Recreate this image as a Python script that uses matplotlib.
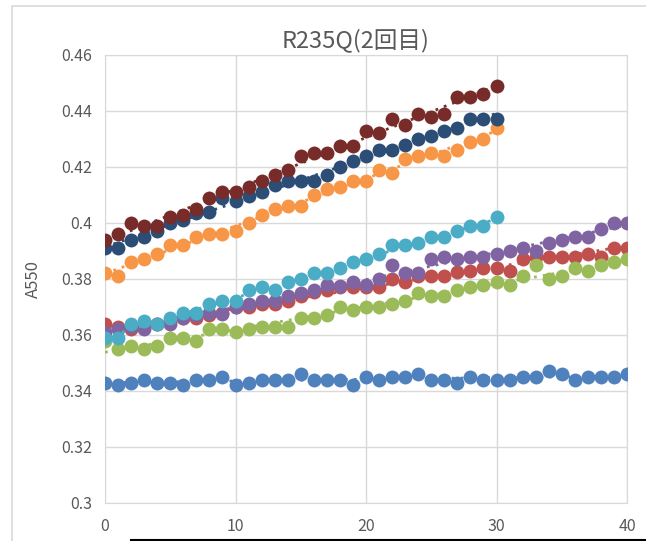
import numpy as np
import matplotlib
matplotlib.use("Agg")
import matplotlib.pyplot as plt
from matplotlib.patches import Rectangle
from matplotlib.lines import Line2D

plt.rcParams['font.family'] = ['Noto Sans CJK JP', 'DejaVu Sans']

title = "R235Q(2回目)"
ylabel = "A550"

x_long = list(range(41))
x_short = list(range(31))

blue = [0.343, 0.342, 0.343, 0.344, 0.343, 0.343, 0.342, 0.344, 0.344, 0.345, 0.342,
        0.343, 0.344, 0.344, 0.344, 0.346, 0.344, 0.344, 0.344, 0.342, 0.345,
        0.344, 0.345, 0.345, 0.346, 0.344, 0.344, 0.343, 0.345, 0.344, 0.344,
        0.344, 0.345, 0.345, 0.347, 0.346, 0.344, 0.345, 0.345, 0.345, 0.346]
red = [0.364, 0.363, 0.362, 0.363, 0.364, 0.365, 0.366, 0.366, 0.367, 0.368, 0.370,
       0.370, 0.371, 0.371, 0.372, 0.374, 0.3755, 0.376, 0.377, 0.377, 0.377,
       0.377, 0.380, 0.379, 0.381, 0.381, 0.381, 0.3825, 0.383, 0.384, 0.384,
       0.383, 0.387, 0.388, 0.388, 0.388, 0.388, 0.389, 0.388, 0.391, 0.391]
green = [0.358, 0.355, 0.356, 0.355, 0.356, 0.359, 0.359, 0.358, 0.362, 0.362, 0.361,
         0.362, 0.363, 0.363, 0.363, 0.366, 0.366, 0.367, 0.370, 0.369, 0.370,
         0.370, 0.371, 0.372, 0.375, 0.374, 0.374, 0.376, 0.377, 0.378, 0.379,
         0.378, 0.381, 0.385, 0.380, 0.381, 0.384, 0.383, 0.385, 0.386, 0.387]
purple = [0.361, 0.362, 0.363, 0.362, 0.364, 0.364, 0.366, 0.367, 0.368, 0.3675, 0.370,
          0.371, 0.372, 0.372, 0.374, 0.375, 0.376, 0.378, 0.3775, 0.379, 0.378,
          0.380, 0.385, 0.382, 0.382, 0.387, 0.388, 0.387, 0.388, 0.388, 0.389,
          0.390, 0.391, 0.390, 0.393, 0.394, 0.395, 0.395, 0.398, 0.400, 0.400]
aqua = [0.359, 0.359, 0.364, 0.365, 0.364, 0.366, 0.368, 0.368, 0.371, 0.372, 0.372,
        0.376, 0.377, 0.376, 0.379, 0.380, 0.382, 0.382, 0.384, 0.386, 0.387,
        0.389, 0.392, 0.392, 0.393, 0.395, 0.395, 0.397, 0.399, 0.399, 0.402]
orange = [0.382, 0.381, 0.386, 0.387, 0.389, 0.392, 0.392, 0.395, 0.396, 0.396, 0.397,
          0.400, 0.403, 0.405, 0.406, 0.406, 0.410, 0.412, 0.413, 0.415, 0.415,
          0.419, 0.418, 0.423, 0.424, 0.425, 0.424, 0.426, 0.429, 0.430, 0.434]
dark_blue = [0.391, 0.391, 0.394, 0.395, 0.397, 0.400, 0.401, 0.4035, 0.404, 0.409, 0.408,
             0.4095, 0.411, 0.4135, 0.415, 0.415, 0.415, 0.417, 0.420, 0.422, 0.424,
             0.426, 0.426, 0.428, 0.430, 0.431, 0.433, 0.434, 0.437, 0.437, 0.437]
dark_red = [0.394, 0.396, 0.400, 0.399, 0.399, 0.402, 0.403, 0.405, 0.409, 0.411, 0.411,
            0.413, 0.415, 0.417, 0.419, 0.424, 0.425, 0.425, 0.4275, 0.4275, 0.433,
            0.432, 0.437, 0.435, 0.439, 0.438, 0.439, 0.445, 0.445, 0.446, 0.449]

series = [
    (x_long, blue, '#4F81BD'),
    (x_long, red, '#C0504D'),
    (x_long, green, '#9BBB59'),
    (x_long, purple, '#8064A2'),
    (x_short, aqua, '#4BACC6'),
    (x_short, orange, '#F79646'),
    (x_short, dark_blue, '#2C4D75'),
    (x_short, dark_red, '#772C2A'),
]

fig = plt.figure(figsize=(6.46, 5.41), dpi=100)
ax = fig.add_axes([105 / 646, 1 - 503 / 541, 522 / 646, 448 / 541])

for xs, ys, color in series:
    xs = np.array(xs)
    ys = np.array(ys)
    ax.plot(xs, ys, 'o', color=color, ms=10, mew=0, zorder=3)
    # linear trendline like excel
    k, b = np.polyfit(xs, ys, 1)
    ax.plot(xs, k * xs + b, color=color, lw=2, ls=(0, (1, 2.2)), zorder=3)

ax.set_xlim(0, 40)
ax.set_ylim(0.3, 0.46)
ax.set_xticks([0, 10, 20, 30, 40])
ax.set_yticks(np.arange(0.30, 0.461, 0.02))
ax.set_yticklabels(['0.3', '0.32', '0.34', '0.36', '0.38', '0.4', '0.42', '0.44', '0.46'])
ax.grid(True, color='#D9D9D9', lw=1)
ax.set_axisbelow(True)
for s in ax.spines.values():
    s.set_color('#D9D9D9')
ax.tick_params(length=0, labelsize=11.5, colors='#595959')
ax.tick_params(axis='x', pad=11)
ax.tick_params(axis='y', pad=9)

ax.set_ylabel(ylabel, fontsize=12, color='#595959', labelpad=14)
fig.text(356 / 646, 1 - 40 / 541, title, fontsize=17, color='#595959',
         ha='center', va='center')

# chart border
fig.patches.append(Rectangle((12 / 646, -0.1), 1.2, 1 - 6 / 541 + 0.1,
                             transform=fig.transFigure, fill=False,
                             edgecolor='#D9D9D9', lw=1.2))
fig.lines.append(Line2D([131 / 646, 1], [1.5 / 541, 1.5 / 541],
                        transform=fig.transFigure, color='black', lw=1.5))

fig.savefig('out.png', dpi=100)
